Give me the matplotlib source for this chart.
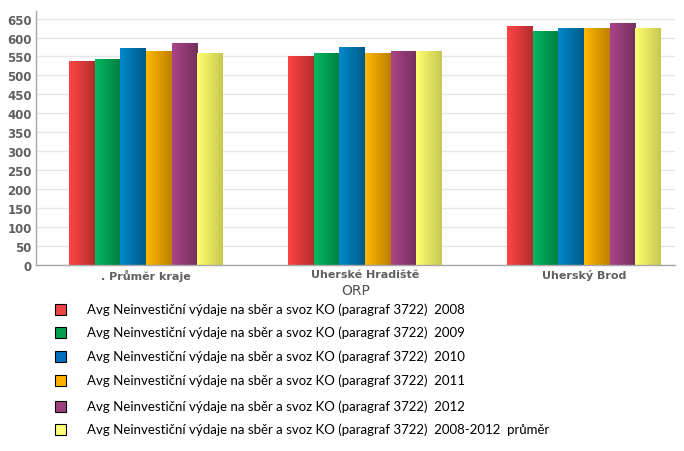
import matplotlib.pyplot as plt
import numpy as np
from matplotlib.colors import LinearSegmentedColormap
from matplotlib.patches import Rectangle

# data
kategorie = ['. Průměr kraje', 'Uherské Hradiště', 'Uherský Brod']
r2008 = [536, 549, 628]
r2009 = [543, 559, 615]
r2010 = [570, 575, 623]
r2011 = [562, 559, 623]
r2012 = [583, 562, 638]
prumer = [559, 562, 625]

serie = [r2008, r2009, r2010, r2011, r2012, prumer]
popisky = ['Avg Neinvestiční výdaje na sběr a svoz KO (paragraf 3722)  2008',
           'Avg Neinvestiční výdaje na sběr a svoz KO (paragraf 3722)  2009',
           'Avg Neinvestiční výdaje na sběr a svoz KO (paragraf 3722)  2010',
           'Avg Neinvestiční výdaje na sběr a svoz KO (paragraf 3722)  2011',
           'Avg Neinvestiční výdaje na sběr a svoz KO (paragraf 3722)  2012',
           'Avg Neinvestiční výdaje na sběr a svoz KO (paragraf 3722)  2008-2012  průměr']

# gradient left -> right, legend colour
barvy = [('#ff4444', '#b32e2e', '#ee4444'),
         ('#00b862', '#007f40', '#00a050'),
         ('#0089cc', '#005a88', '#0070c0'),
         ('#ffb800', '#bd8000', '#ffb000'),
         ('#aa4488', '#742f5e', '#9e3f80'),
         ('#ffff70', '#c8c850', '#ffff77')]

fig = plt.figure(figsize=(6.84, 4.52), dpi=100)
ax = fig.add_axes([36/684, 1-266/452, (675-36)/684, (266-12)/452])

x = np.arange(len(kategorie))
w = 0.117
grad = np.linspace(0, 1, 64).reshape(1, -1)

for i, vals in enumerate(serie):
    cmap = LinearSegmentedColormap.from_list('g%d' % i, [barvy[i][0], barvy[i][1]])
    pos = x + (i - 2.5) * w
    bars = ax.bar(pos, vals, width=w, color='none', zorder=2)
    for b in bars:
        x0 = b.get_x()
        im = ax.imshow(grad, cmap=cmap, aspect='auto', zorder=2,
                       extent=[x0, x0 + b.get_width(), 0, b.get_height()])

ax.set_xlim(-0.502, 2.415)
ax.set_ylim(0, 670)
ax.set_yticks(np.arange(0, 651, 50))
ax.set_xticks(x)
ax.set_xticklabels(kategorie)
ax.yaxis.grid(True, color='#e6e6e6', linewidth=1, zorder=0)
ax.set_axisbelow(True)
for s in ['top', 'right']:
    ax.spines[s].set_visible(False)
for s in ['left', 'bottom']:
    ax.spines[s].set_color('#a8a8a8')
    ax.spines[s].set_linewidth(1)
ax.tick_params(axis='both', length=0, pad=3, colors='#606060')
for t in ax.get_yticklabels():
    t.set_fontsize(8.5)
    t.set_fontweight('bold')
for t in ax.get_xticklabels():
    t.set_fontsize(8)
    t.set_fontweight('bold')
ax.set_xlabel('ORP', fontsize=10, color='#505050', labelpad=1)

# legenda
ys = [310, 333, 357, 381, 407, 430]
for i, txt in enumerate(popisky):
    y = ys[i]
    fig.patches.append(Rectangle((55/684, 1-(y+6)/452), 11/684, 11/452,
                                 facecolor=barvy[i][2], edgecolor='black',
                                 linewidth=0.8, transform=fig.transFigure))
    fig.text(87/684, 1-y/452, txt, fontsize=9.5, family='Lato', va='center', color='black')

plt.savefig('out.png', dpi=100)
